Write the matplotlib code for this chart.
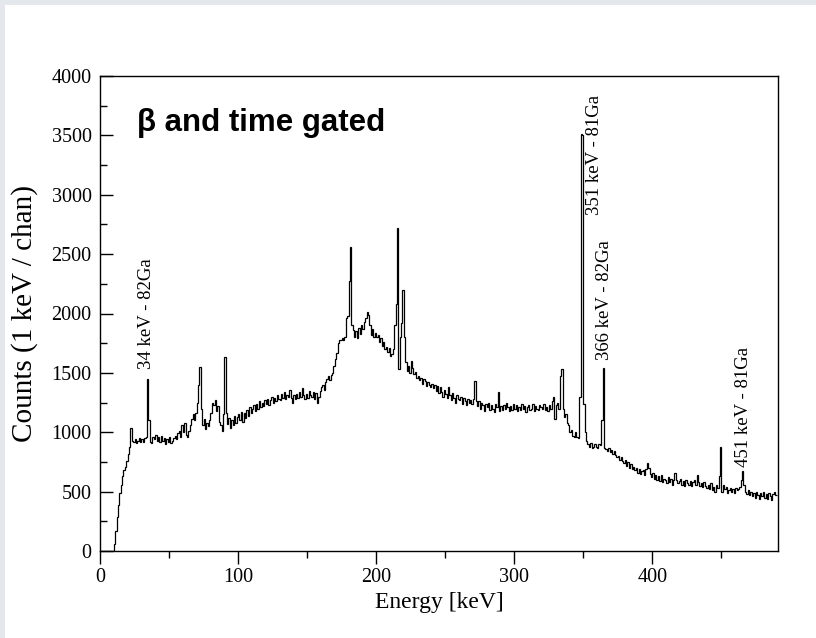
import matplotlib
matplotlib.use('Agg')
import numpy as np
import matplotlib.pyplot as plt
from matplotlib.patches import Rectangle

# counts per 1 keV channel, bins start at 0 keV
counts_000 = [
    0, 0, 0, 0, 0, 0, 0, 0, 0, 0,
    60, 170, 290, 390, 490, 560, 630, 680, 710, 760,
    820, 880, 1040, 930, 920, 940, 910, 930, 950, 920,
    940, 920, 950, 960, 1450, 1100, 920, 910, 960, 940,
    980, 930, 960, 920, 970, 930, 950, 900, 940, 920,
    960, 910, 930, 950, 970, 940, 990, 1010, 960, 1060,
    1000, 1080, 980, 960, 1010, 1060, 1110, 1150, 1100, 1160,
    1250, 1400, 1550, 1200, 1060, 1110, 1030, 1080, 1050, 1100,
    1160, 1250, 1230, 1270, 1180, 1220, 1090, 1060, 1010, 1150,
    1630, 1160, 1070, 1120, 1040, 1100, 1060, 1140, 1080, 1130,
]
counts_100 = [
    1150, 1100, 1170, 1090, 1160, 1120, 1190, 1140, 1210, 1160,
    1200, 1230, 1180, 1240, 1200, 1260, 1210, 1250, 1220, 1270,
    1240, 1280, 1230, 1270, 1300, 1250, 1290, 1260, 1310, 1280,
    1270, 1320, 1290, 1340, 1280, 1310, 1300, 1360, 1290, 1250,
    1310, 1280, 1320, 1290, 1340, 1300, 1370, 1310, 1280, 1320,
    1290, 1350, 1310, 1300, 1340, 1280, 1330, 1250, 1300, 1350,
    1380, 1400, 1360, 1420, 1450, 1470, 1440, 1480, 1500, 1560,
    1620, 1670, 1750, 1780, 1780, 1790, 1780, 1800, 1960, 1980,
    2270, 2560, 1900, 1860, 1800, 1850, 1790, 1880, 1830, 1900,
    1870, 1930, 1960, 2010, 1990, 1900, 1820, 1870, 1800, 1840,
]
counts_200 = [
    1800, 1820, 1760, 1790, 1730, 1760, 1700, 1720, 1680, 1710,
    1640, 1660, 1700, 1900, 2080, 2720, 1530, 1800, 1920, 2200,
    1800, 1590, 1520, 1560, 1500, 1600, 1540, 1490, 1510, 1460,
    1470, 1440, 1460, 1410, 1450, 1430, 1390, 1420, 1400, 1380,
    1410, 1370, 1400, 1350, 1390, 1330, 1380, 1340, 1300, 1360,
    1320, 1290, 1380, 1310, 1270, 1330, 1290, 1250, 1310, 1280,
    1270, 1300, 1240, 1290, 1260, 1230, 1280, 1250, 1270, 1240,
    1280, 1430, 1260, 1220, 1260, 1200, 1250, 1230, 1180, 1240,
    1210, 1250, 1190, 1230, 1200, 1170, 1240, 1210, 1335, 1180,
    1220, 1190, 1230, 1200, 1250, 1210, 1180, 1220, 1190, 1240,
]
counts_300 = [
    1200, 1230, 1180, 1210, 1190, 1240, 1200, 1220, 1170, 1210,
    1230, 1190, 1200, 1240, 1180, 1220, 1200, 1190, 1230, 1210,
    1200, 1240, 1190, 1210, 1180, 1230, 1200, 1260, 1300, 1110,
    1230, 1250, 1200, 1470, 1535, 1200, 1130, 1150, 1080, 1060,
    1000, 1020, 970, 960, 1000, 960, 950, 1300, 3510, 3500,
    1240, 1000, 930, 900, 880, 910, 870, 880, 900, 880,
    870, 900, 890, 1105, 1545, 870, 860, 840, 870, 830,
    850, 820, 840, 810, 790, 800, 770, 790, 760, 740,
    770, 720, 750, 700, 730, 690, 710, 680, 700, 660,
    690, 650, 670, 680, 640, 690, 740, 700, 650, 620,
]
counts_400 = [
    660, 610, 640, 600, 630, 590, 640, 580, 610, 600,
    570, 620, 580, 610, 560, 600, 660, 600, 570, 590,
    610, 560, 590, 550, 600, 570, 560, 590, 550, 580,
    600, 560, 640, 580, 550, 570, 540, 580, 550, 530,
    560, 520, 570, 510, 540, 500, 560, 530, 630, 880,
    500, 560, 520, 540, 490, 510, 530, 500, 520, 490,
    530, 510, 520, 540, 600, 670, 560, 500, 480, 510,
    470, 500, 460, 490, 450, 500, 470, 440, 490, 460,
    500, 450, 480, 440, 490, 460, 430, 480, 500, 470,
]

peak_labels = ["34 keV - 82Ga", "351 keV - 81Ga", "366 keV - 82Ga", "451 keV - 81Ga"]
label_x = [34, 358, 365.5, 466]
label_y = [1530, 2830, 1610, 710]

counts = np.array(counts_000 + counts_100 + counts_200 + counts_300 + counts_400)
edges = np.arange(len(counts) + 1)

fig = plt.figure(figsize=(8.16, 6.38), dpi=100, facecolor='#e4e7ec')
fig.patches.append(Rectangle((5 / 816, 0), 1, 633 / 638, transform=fig.transFigure,
                             facecolor='white', edgecolor='none', zorder=-1))
ax = fig.add_axes([100 / 816, 87 / 638, 678 / 816, 475 / 638])

ax.stairs(counts, edges, baseline=None, color='black', linewidth=0.9)

ax.set_xlim(0, 491)
ax.set_ylim(0, 4000)
ax.set_xticks(np.arange(0, 401, 100))
ax.set_xticks(np.arange(0, 491, 50), minor=True)
ax.set_yticks(np.arange(0, 4001, 500))
ax.set_yticks(np.arange(0, 4001, 250), minor=True)

serif = 'Liberation Serif'
ax.tick_params(axis='y', which='both', direction='in', right=False, pad=6)
ax.tick_params(axis='x', which='both', direction='out', top=False, pad=3)
ax.tick_params(which='major', length=9, width=1)
ax.tick_params(which='minor', length=5, width=1)
for lab in ax.get_xticklabels() + ax.get_yticklabels():
    lab.set_fontfamily(serif)
    lab.set_fontsize(14.5)
for sp in ax.spines.values():
    sp.set_linewidth(1)

ax.set_xlabel('Energy [keV]', fontfamily=serif, fontsize=17, labelpad=4)
ax.set_ylabel('Counts (1 keV / chan)', fontfamily=serif, fontsize=21, labelpad=10)

ax.text(27, 3600, 'β and time gated', fontfamily='Liberation Sans', fontweight='bold',
        fontsize=22.5, ha='left', va='center')

for txt, x, y in zip(peak_labels, label_x, label_y):
    ax.text(x, y, txt, rotation=90, ha='center', va='bottom',
            fontfamily=serif, fontsize=13.5)

fig.savefig('out.png', dpi=100, facecolor=fig.get_facecolor())
